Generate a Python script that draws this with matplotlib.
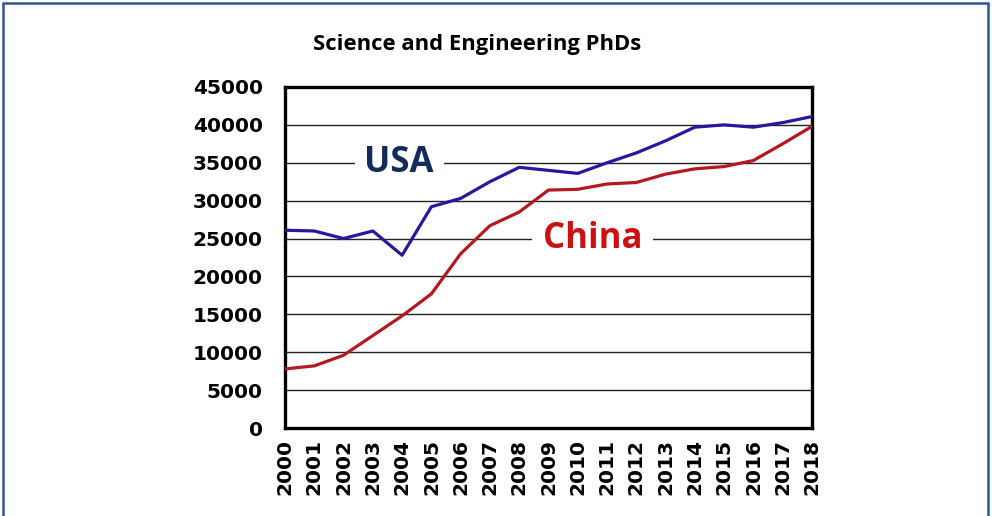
import matplotlib.pyplot as plt
from matplotlib.patches import Rectangle

years = list(range(2000, 2019))
usa = [26100, 26000, 25000, 26000, 22800, 29200, 30300, 32500, 34400, 34000,
       33600, 35000, 36300, 37900, 39700, 40000, 39700, 40300, 41100]
china = [7800, 8200, 9600, 12200, 14800, 17700, 23000, 26700, 28500, 31400,
         31500, 32200, 32400, 33500, 34200, 34500, 35300, 37500, 39800]
y_ticks = list(range(0, 45001, 5000))

fig = plt.figure(figsize=(9.92, 5.16), dpi=100)
ax = fig.add_axes([0.2873, 0.1705, 0.5312, 0.6609])

# outer frame of the slide
fig.patches.append(Rectangle((3 / 992, -0.05), 985 / 992, 1.05 - 3 / 516,
                             transform=fig.transFigure, fill=False,
                             edgecolor="#2F5597", linewidth=1.8))

ax.plot(years, usa, color="#2B16A0", linewidth=2.3, zorder=3)
ax.plot(years, china, color="#B3191E", linewidth=2.3, zorder=3)

ax.set_xlim(2000, 2018)
ax.set_ylim(0, 45000)
ax.set_yticks(y_ticks)
ax.set_xticks(years)
ax.set_xticklabels([str(y) for y in years], rotation=90)
ax.grid(axis="y", color="#222222", linewidth=1.0)
ax.grid(axis="x", visible=False)
ax.set_axisbelow(True)
ax.tick_params(length=0, labelsize=14.5)
ax.tick_params(axis="y", pad=16)
ax.tick_params(axis="x", pad=8)
for lab in ax.get_xticklabels() + ax.get_yticklabels():
    lab.set_fontweight("bold")
    lab.set_family("DejaVu Sans")
for s in ax.spines.values():
    s.set_linewidth(2.4)
    s.set_color("black")

# series labels sitting on the gridlines
ax.text(2003.9, 35000, "USA", color="#132A5C", fontsize=25, fontweight="bold",
        family="Open Sans", ha="center", va="center", zorder=2,
        bbox=dict(facecolor="white", edgecolor="none", pad=7))
ax.text(2010.5, 25000, "China", color="#CC1111", fontsize=25, fontweight="bold",
        family="Open Sans", ha="center", va="center", zorder=2,
        bbox=dict(facecolor="white", edgecolor="none", pad=8))

fig.text(0.4808, 0.913, "Science and Engineering PhDs", fontsize=15.8,
         fontweight="bold", family="Open Sans", ha="center", va="center")

fig.savefig("out.png", dpi=100)
